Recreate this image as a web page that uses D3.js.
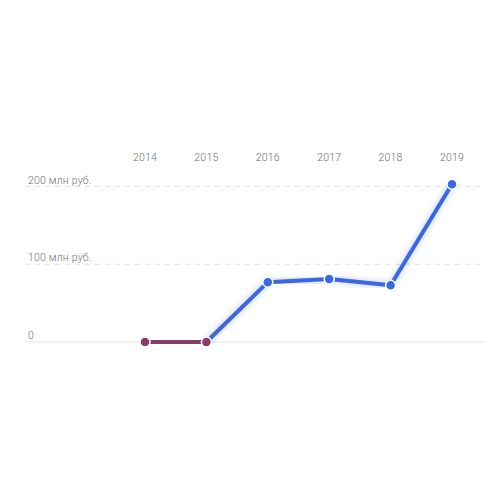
<!DOCTYPE html>
<meta charset="utf-8">
<html lang="ru">
<style>
body { margin: 0; background: #fff; }
.tick-label { font: 300 10.5px Roboto, sans-serif; fill: #6f6f6f; letter-spacing: 0.2px; }
.grid { stroke: #e2e2e2; stroke-width: 1px; stroke-dasharray: 5,5; }
.baseline { stroke: #e6e6e6; stroke-width: 1.2px; }
.line { fill: none; stroke-width: 4px; stroke-linejoin: round; stroke-linecap: round; }
</style>
<body>
<div id="chart"></div>
<script src="https://cdn.jsdelivr.net/npm/d3@7"></script>
<script>
// data (млн руб.)
var years = ["2014", "2015", "2016", "2017", "2018", "2019"];
var values = [0, 0, 77, 81, 73, 203];
var segColors = ["#8a3a6e", "#3a67e3", "#3a67e3", "#3a67e3", "#3a67e3"];
var gridValues = [0, 100, 200];
var gridLabels = ["0", "100 млн руб.", "200 млн руб."];

var width = 500, height = 500;

var svg = d3.select("#chart").append("svg")
    .attr("width", width)
    .attr("height", height);

var x = d3.scalePoint()
    .domain(years)
    .range([145, 452]);

var y = d3.scaleLinear()
    .domain([0, 200])
    .range([342, 186.5]);

// glow filter
var defs = svg.append("defs");
var f = defs.append("filter").attr("id", "glow")
    .attr("x", "-20%").attr("y", "-40%").attr("width", "140%").attr("height", "180%");
f.append("feGaussianBlur").attr("in", "SourceGraphic").attr("stdDeviation", 3);

// grid
svg.selectAll(".grid")
  .data(gridValues.filter(function(d) { return d > 0; }))
  .enter().append("line")
    .attr("class", "grid")
    .attr("x1", 25).attr("x2", 484)
    .attr("y1", function(d) { return y(d); })
    .attr("y2", function(d) { return y(d); });

svg.append("line")
    .attr("class", "baseline")
    .attr("x1", 25).attr("x2", 484)
    .attr("y1", y(0)).attr("y2", y(0));

svg.selectAll(".ylab")
  .data(gridValues)
  .enter().append("text")
    .attr("class", "tick-label")
    .attr("x", 28)
    .attr("y", function(d) { return y(d) - 3; })
    .text(function(d, i) { return gridLabels[i]; });

svg.selectAll(".xlab")
  .data(years)
  .enter().append("text")
    .attr("class", "tick-label")
    .attr("text-anchor", "middle")
    .attr("x", function(d) { return x(d); })
    .attr("y", 161)
    .text(function(d) { return d; });

// segments
var segs = d3.range(years.length - 1).map(function(i) {
  return { a: i, b: i + 1, color: segColors[i] };
});

var line = d3.line()
    .x(function(i) { return x(years[i]); })
    .y(function(i) { return y(values[i]); });

svg.selectAll(".glow")
  .data(segs)
  .enter().append("path")
    .attr("class", "line")
    .attr("d", function(s) { return line([s.a, s.b]); })
    .attr("stroke", function(s) { return s.color; })
    .attr("stroke-width", 9)
    .attr("opacity", 0.4)
    .attr("filter", "url(#glow)");

svg.selectAll(".seg")
  .data(segs)
  .enter().append("path")
    .attr("class", "line")
    .attr("d", function(s) { return line([s.a, s.b]); })
    .attr("stroke", function(s) { return s.color; });

// dots
svg.selectAll(".dot")
  .data(values)
  .enter().append("circle")
    .attr("cx", function(d, i) { return x(years[i]); })
    .attr("cy", function(d) { return y(d); })
    .attr("r", 5)
    .attr("fill", function(d, i) { return i < 2 ? "#8a3a6e" : "#3a67e3"; })
    .attr("stroke", "#fff")
    .attr("stroke-width", 1.5);
</script>
</body>
</html>
